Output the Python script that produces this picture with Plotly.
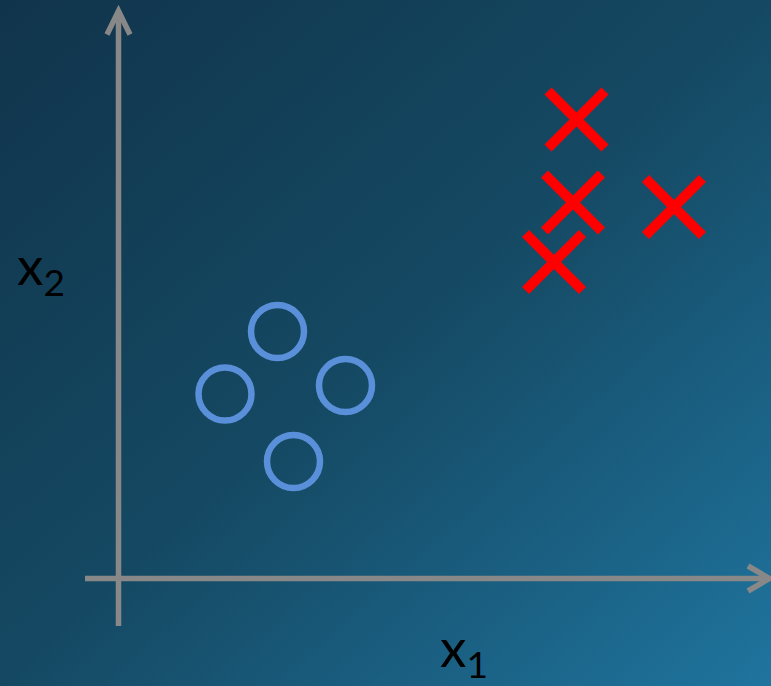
import base64
import plotly.graph_objects as go

# Data (arbitrary feature units)
circle_x1 = [3.18, 2.13, 4.54, 3.50]
circle_x2 = [4.94, 3.69, 3.86, 2.34]
cross_x1 = [9.16, 9.09, 11.11, 8.71]
cross_x2 = [9.18, 7.52, 7.43, 6.33]

axis_x_label = "x<sub>1</sub>"
axis_y_label = "x<sub>2</sub>"

W, H = 771, 686
XR = [-2.37, 13.05]
YR = [-2.15, 11.57]

svg = f'''<svg xmlns="http://www.w3.org/2000/svg" width="{W}" height="{H}" preserveAspectRatio="none">
<defs><linearGradient id="g" x1="0" y1="0" x2="1" y2="1">
<stop offset="0" stop-color="#10344b"/>
<stop offset="0.5" stop-color="#154963"/>
<stop offset="1" stop-color="#1f749e"/>
</linearGradient></defs>
<rect width="{W}" height="{H}" fill="url(#g)"/></svg>'''
bg = "data:image/svg+xml;base64," + base64.b64encode(svg.encode()).decode()

fig = go.Figure()
fig.add_trace(go.Scatter(
    x=circle_x1, y=circle_x2, mode="markers",
    marker=dict(symbol="circle-open", size=53, color="#5a90da",
                line=dict(width=6.5, color="#5a90da")),
    hoverinfo="skip", showlegend=False))
fig.add_trace(go.Scatter(
    x=cross_x1, y=cross_x2, mode="markers",
    marker=dict(symbol="x-thin-open", size=57, color="#ff0000",
                line=dict(width=10, color="#ff0000")),
    hoverinfo="skip", showlegend=False))

axc = "#888888"
lw = 5.5
# axes arrows
fig.add_shape(type="line", x0=-0.67, y0=0, x1=13.02, y1=0, line=dict(color=axc, width=lw))
fig.add_shape(type="path", path="M 12.59 0.25 L 13.02 0 L 12.59 -0.25", line=dict(color=axc, width=lw))
fig.add_shape(type="line", x0=0, y0=-0.95, x1=0, y1=11.35, line=dict(color=axc, width=lw))
fig.add_shape(type="path", path="M -0.23 10.88 L 0 11.35 L 0.23 10.88", line=dict(color=axc, width=lw))

fig.add_annotation(x=-2.08, y=6.2, xref="x", yref="y", text=axis_y_label, showarrow=False,
                   xanchor="left", yanchor="middle", font=dict(family="Lato", size=53, color="#000000"))
fig.add_annotation(x=6.38, y=-1.43, xref="x", yref="y", text=axis_x_label, showarrow=False,
                   xanchor="left", yanchor="middle", font=dict(family="Lato", size=53, color="#000000"))

fig.update_layout(
    width=W, height=H, margin=dict(l=0, r=0, t=0, b=0),
    paper_bgcolor="#154963", plot_bgcolor="rgba(0,0,0,0)",
    xaxis=dict(range=XR, visible=False, fixedrange=True),
    yaxis=dict(range=YR, visible=False, fixedrange=True),
    images=[dict(source=bg, xref="paper", yref="paper", x=0, y=1, sizex=1, sizey=1,
                 sizing="stretch", layer="below")],
)
fig.write_html("out.html", config={"displayModeBar": False},
               post_script="document.body.style.margin='0';document.body.style.overflow='hidden';")
